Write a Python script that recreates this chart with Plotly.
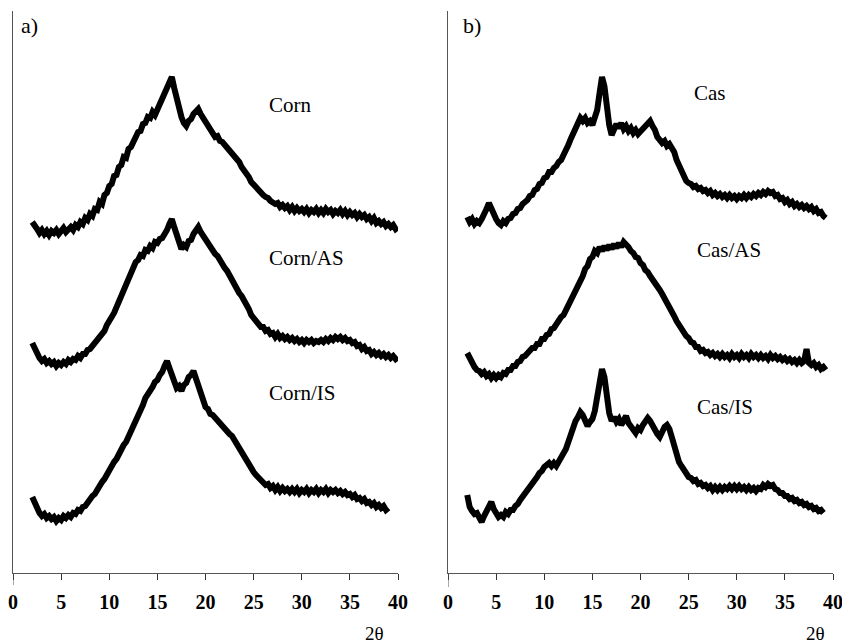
import numpy as np
import plotly.graph_objects as go

# 2-theta sampling step (degrees) and start angle
step = 0.25
start = 2.0

corn = [351,346,344,340,343,339,342,338, 342,340,343,339,342,345,341,344,
        346,343,348,346,351,349,355,353, 359,357,364,363,371,369,378,380,
        387,389,397,398,406,408,416,415, 424,426,432,434,441,442,449,450,
        456,455,461,458,464,466,473,478, 486,490,496,485,473,465,456,450,
        447,452,454,459,462,464,459,455, 451,446,442,439,436,437,432,431,
        428,426,424,420,418,414,411,406, 403,398,396,391,388,386,383,380,
        378,376,375,372,371,369,370,366, 368,365,367,363,366,362,365,362,
        364,361,364,360,363,361,364,360, 363,360,364,361,363,359,362,360,
        363,359,362,358,361,358,360,356, 359,356,358,354,356,352,355,350,
        352,349,351,347,349,346,348,344, 346]

corn_as = [230,224,218,215,212,214,210,212, 209,211,207,210,208,211,209,213,
           211,214,213,217,215,219,219,223, 224,227,229,233,235,240,242,248,
           251,256,260,266,270,276,281,289, 293,300,304,311,313,318,317,323,
           322,327,325,331,330,334,335,341, 343,349,354,346,337,330,324,328,
           326,332,333,339,342,346,341,337, 333,329,325,323,319,317,312,310,
           305,302,297,293,288,285,280,277, 273,268,264,258,255,252,250,246,
           246,242,243,239,240,236,239,235, 237,234,236,233,235,232,234,231,
           233,230,233,231,233,230,232,231, 233,231,234,232,235,233,236,234,
           236,233,235,232,233,230,231,227, 228,224,226,222,223,219,221,218,
           220,217,219,216,218,215,217,214, 216]

corn_is = [76,70,64,60,57,59,55,57, 54,56,52,55,53,57,55,58,
           56,60,59,63,62,66,67,71, 73,77,79,84,86,91,94,99,
           103,106,111,114,120,123,128,131, 136,141,146,153,158,164,168,175,
           178,183,186,191,193,198,201,207, 212,205,198,191,185,187,182,188,
           190,196,198,202,195,186,179,171, 166,164,159,158,155,153,150,148,
           145,142,139,137,133,129,124,120, 115,112,108,104,101,98,95,93,
           91,88,89,85,87,83,86,82, 85,82,84,81,84,81,84,80,
           83,81,84,80,83,81,84,80, 83,81,84,80,83,81,83,80,
           82,79,81,78,79,76,78,74, 75,72,74,70,71,68,70,66,
           68,65,67,63,65]

cas = [356,351,354,349,352,350,354,358, 364,370,364,358,354,350,348,352,
       350,354,355,359,360,364,365,369, 371,373,377,378,383,384,389,390,
       395,396,401,401,405,407,411,413, 418,422,428,434,440,447,451,455,
       452,455,450,452,448,455,463,480, 496,487,465,448,438,446,449,445,
       450,444,447,442,445,440,443,439, 442,444,447,449,452,447,443,436,
       433,430,432,427,429,425,421,413, 407,400,395,392,390,389,386,387,
       384,385,382,383,380,382,378,380, 377,379,376,378,375,378,375,377,
       374,377,375,378,375,378,376,379, 377,380,378,381,379,382,380,381,
       377,378,374,375,371,373,369,371, 367,369,366,368,365,367,364,366,
       362,364,360,361,357,355]

cas_as = [220,214,209,206,203,202,199,201, 197,199,195,198,195,198,196,200,
          199,203,203,207,207,211,212,216, 217,220,221,225,225,229,229,234,
          234,238,239,244,245,249,251,256, 258,263,266,272,275,282,286,293,
          297,304,307,314,316,322,320,326, 322,327,323,328,324,329,325,330,
          326,331,329,326,322,320,316,315, 310,308,303,301,297,294,290,287,
          283,279,275,270,266,262,257,252, 248,244,241,237,235,231,230,226,
          226,222,223,220,221,218,220,217, 219,216,219,216,218,215,219,216,
          218,215,219,216,218,215,219,216, 218,215,218,215,217,214,218,215,
          217,214,216,213,215,212,214,211, 213,210,213,210,212,224,210,208,
          210,206,208,204,206,203]

cas_is = [78,66,62,59,60,55,51,57, 62,67,71,64,60,56,58,56,
          61,59,63,63,67,69,73,76, 80,83,86,90,93,96,100,102,
          106,109,110,107,110,107,111,114, 119,124,131,139,148,152,156,161,
          158,152,147,151,154,162,174,190, 204,196,176,160,152,156,151,154,
          148,153,157,150,146,144,140,145, 143,148,151,155,152,147,142,139,
          136,142,146,148,144,136,127,118, 111,107,103,100,96,95,92,93,
          89,90,87,88,85,87,83,86, 83,86,83,86,84,87,84,87,
          84,87,84,86,83,86,83,85, 82,85,84,88,86,89,87,88,
          84,83,80,80,77,77,74,75, 72,73,70,71,68,69,66,67,
          64,65,62,63,60]

xticks = [0, 5, 10, 15, 20, 25, 30, 35, 40]
labels_a = ["Corn", "Corn/AS", "Corn/IS"]
labels_b = ["Cas", "Cas/AS", "Cas/IS"]

# body margin removed by post_script, so figure pixels == window pixels
W, H = 842, 644
L_TOP, AX_Y = 11, 573
PLOT_H = AX_Y - L_TOP

def tt(vals):
    return start + step * np.arange(len(vals))

fig = go.Figure()
line = dict(color="black", width=6)
for vals in (corn, corn_as, corn_is):
    fig.add_trace(go.Scatter(x=tt(vals), y=vals, mode="lines", line=line,
                             xaxis="x", yaxis="y", showlegend=False, hoverinfo="skip"))
for vals in (cas, cas_as, cas_is):
    fig.add_trace(go.Scatter(x=tt(vals), y=vals, mode="lines", line=line,
                             xaxis="x2", yaxis="y2", showlegend=False, hoverinfo="skip"))

serif = "Liberation Serif, Times New Roman, serif"
xax = dict(range=[0, 40], tickvals=xticks, ticks="outside", ticklen=6, tickwidth=1,
           tickcolor="#333", showline=True, linecolor="#555", linewidth=1,
           showgrid=False, zeroline=False, ticklabelstandoff=5, automargin=False,
           ticklabeloverflow="allow", fixedrange=True,
           tickfont=dict(family=serif, size=20, color="black", weight="bold"))
yax = dict(range=[0, PLOT_H], showline=True, linecolor="#555", linewidth=1,
           showticklabels=False, ticks="", showgrid=False, zeroline=False,
           automargin=False, fixedrange=True)

fig.update_layout(
    template="none",
    width=W, height=H,
    hovermode=False,
    margin=dict(l=0, r=0, t=L_TOP, b=H - AX_Y, pad=0, autoexpand=False),
    paper_bgcolor="white", plot_bgcolor="white",
    xaxis=dict(domain=[13 / W, 398 / W], anchor="y", **xax),
    yaxis=dict(anchor="x", **yax),
    xaxis2=dict(domain=[448 / W, 833 / W], anchor="y2", **xax),
    yaxis2=dict(anchor="x2", **yax),
)

# y-axis line continues a little below the x-axis (long tick at 0)
for xr, ext in (("x", 12), ("x2", 14)):
    fig.add_shape(type="line", xref=xr, yref="paper", x0=0, x1=0,
                  y0=0, y1=-ext / PLOT_H, line=dict(color="#555", width=1))

def px(p):
    return p / W

def py(p):
    return (AX_Y - p) / PLOT_H

ann = []
fnt = dict(family=serif, size=21, color="black")
# curve labels (data coords)
for txt, x, y in zip(labels_a, [26.4, 26.4, 26.4], [468, 315, 180]):
    ann.append(dict(text=txt, x=x, y=y, xref="x", yref="y", xanchor="left",
                    yanchor="middle", showarrow=False, font=fnt))
for txt, x, y in zip(labels_b, [25.3, 25.7, 25.7], [480, 323, 166]):
    ann.append(dict(text=txt, x=x, y=y, xref="x2", yref="y2", xanchor="left",
                    yanchor="middle", showarrow=False, font=fnt))
# panel letters
for txt, xl in (("a)", 19), ("b)", 461)):
    ann.append(dict(text=txt, x=px(xl), y=py(26), xref="paper", yref="paper",
                    xanchor="left", yanchor="middle", showarrow=False,
                    font=dict(family=serif, size=22, color="black")))
# axis titles
for xc in (374, 815):
    ann.append(dict(text="2θ", x=px(xc), y=py(633), xref="paper", yref="paper",
                    xanchor="center", yanchor="middle", showarrow=False,
                    font=dict(family=serif, size=19, color="black")))
fig.update_layout(annotations=ann)

fig.write_html(
    "out.html",
    config={"displayModeBar": False, "staticPlot": True},
    post_script="document.body.style.margin='0';document.body.style.overflow='hidden';"
                "document.documentElement.style.overflow='hidden';",
)
